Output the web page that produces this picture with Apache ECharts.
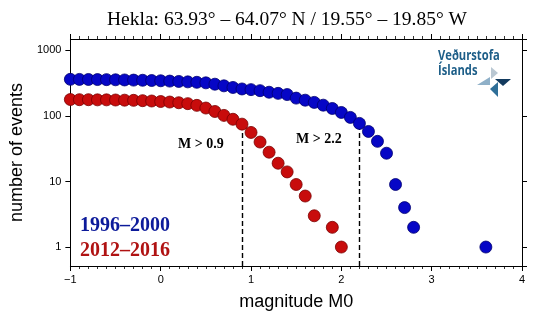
<!DOCTYPE html>
<html>
<head>
<meta charset="utf-8">
<script src="https://cdn.jsdelivr.net/npm/echarts@6/dist/echarts.min.js"></script>
<style>html,body{margin:0;padding:0;background:#fff;}#c{width:540px;height:322px;}</style>
</head>
<body>
<div id="c"></div>
<script>
// ---- data ----
const titleText = 'Hekla: 63.93° – 64.07° N / 19.55° – 19.85° W';
const xTitle = 'magnitude M0';
const yTitle = 'number of events';
const blueLabel = '1996–2000';
const redLabel = '2012–2016';

const blueMag = [-1.0,-0.9,-0.8,-0.7,-0.6,-0.5,-0.4,-0.3,-0.2,-0.1,0.0,0.1,0.2,0.3,0.4,0.5,0.6,0.7,0.8,0.9,1.0,1.1,1.2,1.3,1.4,1.5,1.6,1.7,1.8,1.9,2.0,2.1,2.2,2.3,2.4,2.5,2.6,2.7,2.8,3.6];
const blueCount = [362,361,360,359,358,356,354,352,350,347,344,340,336,331,326,320,305,288,272,258,252,243,230,221,212,187,174,161,146,130,113,95,77,58,41,27,9,4,2,1];

const redMag = [-1.0,-0.9,-0.8,-0.7,-0.6,-0.5,-0.4,-0.3,-0.2,-0.1,0.0,0.1,0.2,0.3,0.4,0.5,0.6,0.7,0.8,0.9,1.0,1.1,1.2,1.3,1.4,1.5,1.6,1.7,1.9,2.0];
const redCount = [178,177,177,176,176,175,174,173,171,169,166,163,159,154,145,132,117,102,89,75,56,40,28,19,14,9,6,3,2,1];

const thresholds = [0.9, 2.2];
const thresholdLabels = ['M > 0.9', 'M > 2.2'];

const xMin = -1, xMax = 4;
const yMin = 0.514, yMax = 1492;

// ---- chart ----
const sans = 'Liberation Sans';
const serif = 'Liberation Serif';
const blueData = blueMag.map((m, i) => [m, blueCount[i]]);
const redData = redMag.map((m, i) => [m, redCount[i]]);
const redAt09 = redCount[redMag.indexOf(thresholds[0])];
const blueAt22 = blueCount[blueMag.indexOf(thresholds[1])];

const xLab = v => (v < 0 ? '\u2212' + (-v) : String(v));
const yLab = v => {
  const l = Math.log10(v);
  return Math.abs(l - Math.round(l)) < 1e-6 ? String(Math.round(v)) : '';
};

const axisCommonX = {
  type: 'value', min: xMin, max: xMax, interval: 1,
  axisLine: { show: true, onZero: false, lineStyle: { color: '#000', width: 1 } },
  axisTick: { show: true, inside: false, length: 5, lineStyle: { color: '#000', width: 1 } },
  minorTick: { show: true, splitNumber: 10, length: 3, lineStyle: { color: '#000', width: 0.8 } },
  splitLine: { show: false }
};
const axisCommonY = {
  type: 'log', logBase: 10, min: yMin, max: yMax,
  axisLine: { show: true, onZero: false, lineStyle: { color: '#000', width: 1 } },
  axisTick: { show: true, inside: false, length: 5, lineStyle: { color: '#000', width: 1 } },
  minorTick: { show: false },
  splitLine: { show: false }
};

const chart = echarts.init(document.getElementById('c'), null, { renderer: 'canvas' });
chart.setOption({
  animation: false,
  backgroundColor: '#fff',
  title: {
    text: titleText, left: 282, top: 5, textAlign: 'center',
    textStyle: { fontFamily: serif, fontSize: 19.5, fontWeight: 'normal', color: '#000' }
  },
  grid: { left: 68, right: 18, top: 39, bottom: 56 },
  xAxis: [
    Object.assign({}, axisCommonX, {
      position: 'bottom',
      axisLabel: { show: true, formatter: xLab, fontFamily: sans, fontSize: 11, color: '#000', margin: 8 },
      name: xTitle, nameLocation: 'middle', nameGap: 27,
      nameTextStyle: { fontFamily: sans, fontSize: 18, color: '#000' }
    }),
    Object.assign({}, axisCommonX, { position: 'top', axisLabel: { show: false } })
  ],
  yAxis: [
    Object.assign({}, axisCommonY, {
      position: 'left',
      axisLabel: { show: true, formatter: yLab, fontFamily: sans, fontSize: 11, color: '#000', margin: 9,
                   showMinLabel: false, showMaxLabel: false },
      name: yTitle, nameLocation: 'middle', nameGap: 40,
      nameTextStyle: { fontFamily: sans, fontSize: 18, color: '#000' }
    }),
    Object.assign({}, axisCommonY, { position: 'right', axisLabel: { show: false } })
  ],
  series: [
    {
      name: blueLabel, type: 'scatter', xAxisIndex: 0, yAxisIndex: 0,
      symbol: 'circle', symbolSize: 12, z: 5,
      itemStyle: { color: '#0606c6', borderColor: '#00006e', borderWidth: 0.8, opacity: 1 },
      data: blueData,
      markLine: {
        silent: true, symbol: 'none', z: 3,
        lineStyle: { color: '#000', type: [5, 3], width: 1.4 },
        label: { show: false },
        data: [[{ coord: [thresholds[1], yMin] }, { coord: [thresholds[1], blueAt22] }]]
      }
    },
    {
      name: redLabel, type: 'scatter', xAxisIndex: 0, yAxisIndex: 0,
      symbol: 'circle', symbolSize: 12, z: 5,
      itemStyle: { color: '#c80c0c', borderColor: '#7a0000', borderWidth: 0.8, opacity: 1 },
      data: redData,
      markLine: {
        silent: true, symbol: 'none', z: 3,
        lineStyle: { color: '#000', type: [5, 3], width: 1.4 },
        label: { show: false },
        data: [[{ coord: [thresholds[0], yMin] }, { coord: [thresholds[0], redAt09] }]]
      }
    }
  ],
  graphic: [
    { type: 'text', left: 178, top: 137, style: { text: thresholdLabels[0], font: 'bold 14px "Liberation Serif"', fill: '#000' } },
    { type: 'text', left: 296, top: 132, style: { text: thresholdLabels[1], font: 'bold 14px "Liberation Serif"', fill: '#000' } },
    { type: 'text', left: 80, top: 216, style: { text: blueLabel, font: 'bold 20px "Liberation Serif"', fill: '#0c1a9a' } },
    { type: 'text', left: 80, top: 241, style: { text: redLabel, font: 'bold 20px "Liberation Serif"', fill: '#b01212' } },
    // logo
    { type: 'text', x: 438, y: 49, scaleX: 0.8, style: { text: 'Veðurstofa', font: 'bold 14px "Open Sans"', fill: '#1d5e88', verticalAlign: 'top' } },
    { type: 'text', x: 438, y: 64, scaleX: 0.8, style: { text: 'Íslands', font: 'bold 14px "Open Sans"', fill: '#1d5e88', verticalAlign: 'top' } },
    { type: 'polygon', shape: { points: [[491, 67], [491, 79], [498, 73]] }, style: { fill: '#b9c7d2' } },
    { type: 'polygon', shape: { points: [[477, 85], [490, 77], [490, 85]] }, style: { fill: '#8fb0c8' } },
    { type: 'polygon', shape: { points: [[495, 79], [511, 79], [503, 86]] }, style: { fill: '#123a5e' } },
    { type: 'polygon', shape: { points: [[490, 89], [498, 82], [498, 97]] }, style: { fill: '#2f6f98' } }
  ]
});
</script>
</body>
</html>
